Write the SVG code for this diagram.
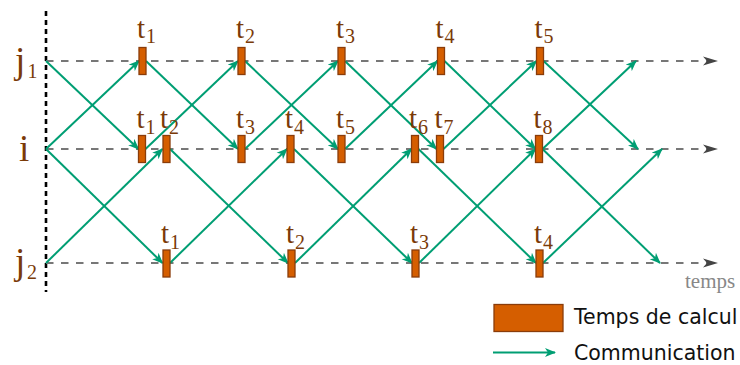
<svg xmlns="http://www.w3.org/2000/svg" width="740" height="365" viewBox="0 0 740 365">
<style>
.axis{stroke:#777;stroke-width:2;stroke-dasharray:7.5 7.5;fill:none}
.vert{stroke:#000;stroke-width:2.6;stroke-dasharray:5 4;fill:none}
.com{stroke:#009e73;stroke-width:2;fill:none;marker-end:url(#ga)}
.bar{fill:#d55e00;stroke:#8a3c0a;stroke-width:1.3}
.t{font-family:"Liberation Serif",serif;font-size:29px;fill:#7a3a08}
.s{font-size:20px}
.lab{font-family:"Liberation Serif",serif;font-size:37px;fill:#7a3a08}
.labs{font-size:20px}
.leg{font-family:"DejaVu Sans",sans-serif;font-size:20.5px;fill:#111}
</style>
<defs>
<marker id="ga" viewBox="-11 -5 12 10" refX="-1" refY="0" markerWidth="12" markerHeight="10" markerUnits="userSpaceOnUse" orient="auto">
<path d="M0,0 L-11,-4.5 L-8,0 L-11,4.5 Z" fill="#009e73"/>
</marker>
<marker id="xa" viewBox="-15 -5 16 10" refX="-10" refY="0" markerWidth="16" markerHeight="10" markerUnits="userSpaceOnUse" orient="auto">
<path d="M0,0 L-15,-4.5 L-11,0 L-15,4.5 Z" fill="#444"/>
</marker>
</defs>
<g id="axes">
<line class="vert" x1="46" y1="11" x2="46" y2="292"/>
<line class="axis" x1="46" y1="61" x2="708" y2="61" marker-end="url(#xa)"/>
<line class="axis" x1="46" y1="149" x2="708" y2="149" marker-end="url(#xa)"/>
<line class="axis" x1="46" y1="263" x2="708" y2="263" marker-end="url(#xa)"/>
</g>
<g id="process-labels">
<text class="lab" x="15" y="73">j<tspan class="labs" x="27.5" y="78">1</tspan></text>
<text class="lab" x="19" y="161">i</text>
<text class="lab" x="15" y="274">j<tspan class="labs" x="27" y="279">2</tspan></text>
</g>
<g id="connectors">
<line class="com" x1="46" y1="61" x2="138.5" y2="149"/>
<line class="com" x1="46" y1="149" x2="139" y2="61"/>
<line class="com" x1="46" y1="149" x2="162.5" y2="263"/>
<line class="com" x1="46" y1="263" x2="162.5" y2="149"/>
<line class="com" x1="146" y1="61" x2="238" y2="149"/>
<line class="com" x1="145.5" y1="149" x2="238" y2="61"/>
<line class="com" x1="170" y1="149" x2="288" y2="263"/>
<line class="com" x1="170" y1="263" x2="287" y2="149"/>
<line class="com" x1="245" y1="61" x2="338" y2="149"/>
<line class="com" x1="245" y1="149" x2="338" y2="61"/>
<line class="com" x1="294" y1="149" x2="412" y2="263"/>
<line class="com" x1="295" y1="263" x2="411.5" y2="149"/>
<line class="com" x1="345" y1="61" x2="436.5" y2="149"/>
<line class="com" x1="345" y1="149" x2="437.5" y2="61"/>
<line class="com" x1="418.5" y1="149" x2="536" y2="263"/>
<line class="com" x1="419" y1="263" x2="535.5" y2="149"/>
<line class="com" x1="444.5" y1="61" x2="535.5" y2="149"/>
<line class="com" x1="443.5" y1="149" x2="536.5" y2="61"/>
<line class="com" x1="542.5" y1="149" x2="636" y2="61"/>
<line class="com" x1="543.5" y1="61" x2="638" y2="149"/>
<line class="com" x1="542.5" y1="149" x2="660" y2="263"/>
<line class="com" x1="543" y1="263" x2="662" y2="149"/>
</g>
<g id="j1-t1"><rect class="bar" x="139" y="47.5" width="7" height="27"/><text class="t" x="137" y="37.5">t<tspan class="s" x="146" y="43">1</tspan></text></g>
<g id="j1-t2"><rect class="bar" x="238" y="47.5" width="7" height="27"/><text class="t" x="236" y="37.5">t<tspan class="s" x="245" y="43">2</tspan></text></g>
<g id="j1-t3"><rect class="bar" x="338" y="47.5" width="7" height="27"/><text class="t" x="336" y="37.5">t<tspan class="s" x="345" y="43">3</tspan></text></g>
<g id="j1-t4"><rect class="bar" x="437.5" y="47.5" width="7" height="27"/><text class="t" x="435.5" y="37.5">t<tspan class="s" x="444.5" y="43">4</tspan></text></g>
<g id="j1-t5"><rect class="bar" x="536.5" y="47.5" width="7" height="27"/><text class="t" x="534.5" y="37.5">t<tspan class="s" x="543.5" y="43">5</tspan></text></g>
<g id="i-t1"><rect class="bar" x="138.5" y="135.5" width="7" height="27"/><text class="t" x="136.5" y="128">t<tspan class="s" x="145.5" y="133.5">1</tspan></text></g>
<g id="i-t2"><rect class="bar" x="163" y="135.5" width="7" height="27"/><text class="t" x="160" y="128">t<tspan class="s" x="169" y="133.5">2</tspan></text></g>
<g id="i-t3"><rect class="bar" x="238" y="135.5" width="7" height="27"/><text class="t" x="236" y="128">t<tspan class="s" x="245" y="133.5">3</tspan></text></g>
<g id="i-t4"><rect class="bar" x="287" y="135.5" width="7" height="27"/><text class="t" x="285" y="128">t<tspan class="s" x="294" y="133.5">4</tspan></text></g>
<g id="i-t5"><rect class="bar" x="338" y="135.5" width="7" height="27"/><text class="t" x="336" y="128">t<tspan class="s" x="345" y="133.5">5</tspan></text></g>
<g id="i-t6"><rect class="bar" x="411.5" y="135.5" width="7" height="27"/><text class="t" x="409" y="128">t<tspan class="s" x="418" y="133.5">6</tspan></text></g>
<g id="i-t7"><rect class="bar" x="436.5" y="135.5" width="7" height="27"/><text class="t" x="434.5" y="128">t<tspan class="s" x="443.5" y="133.5">7</tspan></text></g>
<g id="i-t8"><rect class="bar" x="535.5" y="135.5" width="7" height="27"/><text class="t" x="533.5" y="128">t<tspan class="s" x="542.5" y="133.5">8</tspan></text></g>
<g id="j2-t1"><rect class="bar" x="163" y="250" width="7" height="27"/><text class="t" x="161" y="243">t<tspan class="s" x="170" y="248.5">1</tspan></text></g>
<g id="j2-t2"><rect class="bar" x="288" y="250" width="7" height="27"/><text class="t" x="286" y="243">t<tspan class="s" x="295" y="248.5">2</tspan></text></g>
<g id="j2-t3"><rect class="bar" x="412" y="250" width="7" height="27"/><text class="t" x="410" y="243">t<tspan class="s" x="419" y="248.5">3</tspan></text></g>
<g id="j2-t4"><rect class="bar" x="536" y="250" width="7" height="27"/><text class="t" x="534" y="243">t<tspan class="s" x="543" y="248.5">4</tspan></text></g>
<g id="time-label"><text x="685" y="288" style="font-family:'Liberation Serif',serif;font-size:21px;fill:#888">temps</text></g>
<g id="legend">
<rect class="bar" x="494" y="304.5" width="69" height="27"/>
<text class="leg" x="574" y="323.5">Temps de calcul</text>
<line class="com" x1="493" y1="352.5" x2="555" y2="352.5"/>
<text class="leg" x="574" y="360">Communication</text>
</g>
</svg>
